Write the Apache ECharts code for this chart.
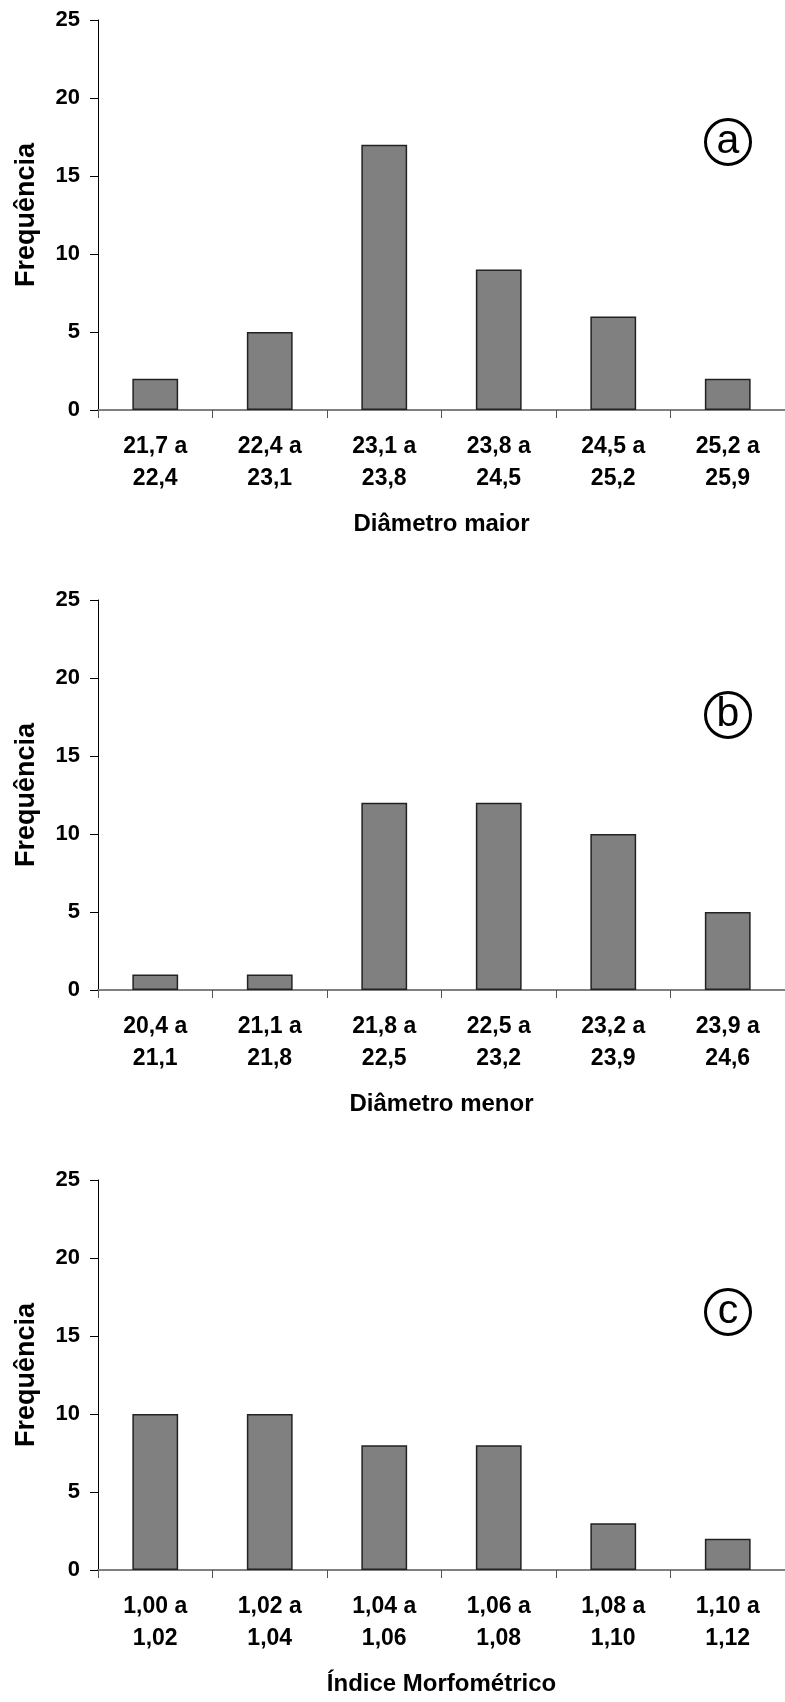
<!DOCTYPE html>
<html>
<head>
<meta charset="utf-8">
<script src="https://cdn.jsdelivr.net/npm/echarts@6/dist/echarts.min.js"></script>
<style>
html,body{margin:0;padding:0;background:#fff;}
#chart{width:785px;height:1702px;}
</style>
</head>
<body>
<div id="chart"></div>
<script>
// ---- data ----
const catsA = ['21,7 a\n22,4','22,4 a\n23,1','23,1 a\n23,8','23,8 a\n24,5','24,5 a\n25,2','25,2 a\n25,9'];
const valsA = [2, 5, 17, 9, 6, 2];
const catsB = ['20,4 a\n21,1','21,1 a\n21,8','21,8 a\n22,5','22,5 a\n23,2','23,2 a\n23,9','23,9 a\n24,6'];
const valsB = [1, 1, 12, 12, 10, 5];
const catsC = ['1,00 a\n1,02','1,02 a\n1,04','1,04 a\n1,06','1,06 a\n1,08','1,08 a\n1,10','1,10 a\n1,12'];
const valsC = [10, 10, 8, 8, 3, 2];
const xTitles = ['Diâmetro maior', 'Diâmetro menor', 'Índice Morfométrico'];
const yTitle = 'Frequência';
const panelLetters = ['a', 'b', 'c'];
const yTicks = [0, 5, 10, 15, 20, 25];

const cats = [catsA, catsB, catsC];
const vals = [valsA, valsB, valsC];
const FONT = "'Liberation Sans', Arial, sans-serif";
const tops = [20, 600, 1180];
const letterY = [141, 714, 1311];

const grids = [], xAxes = [], yAxes = [], series = [], graphics = [];
for (let i = 0; i < 3; i++) {
  grids.push({left: 98, top: tops[i], width: 691, height: 390, containLabel: false});
  xAxes.push({
    type: 'category', gridIndex: i, data: cats[i],
    axisLine: {lineStyle: {color: '#808080', width: 2}},
    axisTick: {show: true, length: 8, lineStyle: {color: '#555', width: 1}},
    axisLabel: {color: '#000', fontFamily: FONT, fontWeight: 'bold', fontSize: 23, lineHeight: 32, margin: 21, interval: 0},
    name: xTitles[i], nameLocation: 'middle', nameGap: 102,
    nameTextStyle: {color: '#000', fontFamily: FONT, fontWeight: 'bold', fontSize: 24}
  });
  yAxes.push({
    type: 'value', gridIndex: i, min: yTicks[0], max: yTicks[yTicks.length - 1], interval: 5,
    axisLine: {show: true, lineStyle: {color: '#000', width: 1}},
    axisTick: {show: true, length: 8, lineStyle: {color: '#000', width: 1}},
    splitLine: {show: false},
    axisLabel: {color: '#000', fontFamily: FONT, fontWeight: 'bold', fontSize: 22, margin: 18},
    name: yTitle, nameLocation: 'middle', nameGap: 58, nameRotate: 90,
    nameTextStyle: {color: '#000', fontFamily: FONT, fontWeight: 'bold', fontSize: 27}
  });
  series.push({
    type: 'bar', xAxisIndex: i, yAxisIndex: i, data: vals[i], barWidth: '40%',
    itemStyle: {color: '#808080', borderColor: '#222', borderWidth: 1.5},
    silent: true
  });
  graphics.push({
    type: 'group', left: 703, top: letterY[i] - 24,
    children: [
      {type: 'circle', shape: {cx: 24, cy: 24, r: 22.5}, style: {fill: 'none', stroke: '#000', lineWidth: 3}},
      {type: 'text', x: 24, y: 24, style: {text: panelLetters[i], font: '41px ' + FONT, fill: '#000', textAlign: 'center', textVerticalAlign: 'middle'}}
    ]
  });
}

const chart = echarts.init(document.getElementById('chart'), null, {renderer: 'canvas'});
chart.setOption({
  backgroundColor: '#fff',
  animation: false,
  grid: grids, xAxis: xAxes, yAxis: yAxes, series: series,
  graphic: graphics
});
</script>
</body>
</html>
